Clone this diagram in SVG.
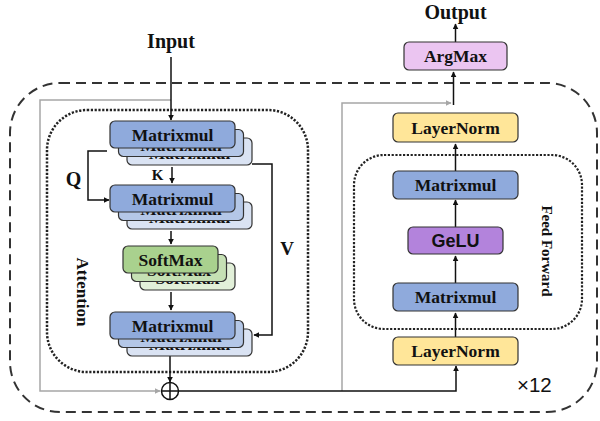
<svg xmlns="http://www.w3.org/2000/svg" width="600" height="421" viewBox="0 0 600 421">
<defs>
<marker id="ah" viewBox="0 0 10 10" refX="9" refY="5" markerWidth="6" markerHeight="6" markerUnits="userSpaceOnUse" orient="auto"><path d="M0,0 L10,5 L0,10 Z" fill="#111"/></marker>
<marker id="ahg" viewBox="0 0 10 10" refX="9" refY="5" markerWidth="6" markerHeight="6" markerUnits="userSpaceOnUse" orient="auto"><path d="M0,0 L10,5 L0,10 Z" fill="#a6a6a6"/></marker>
<style>
text{font-family:"Liberation Serif","Times New Roman",serif;font-weight:bold;fill:#111}
.sans{font-family:"Liberation Sans",Arial,sans-serif}
.box{stroke:#333;stroke-width:1.2}
.b1{fill:#8faadc}.b2{fill:#b4c7e7}.b3{fill:#dae3f3}
.g1{fill:#a9d18e}.g2{fill:#c5e0b4}.g3{fill:#e2f0d9}
.ln{fill:#ffe699}.am{fill:#ebc5f1}.ge{fill:#b383dc}
.lbl{font-size:17.5px;text-anchor:middle;dominant-baseline:central}
.ar{fill:none;stroke:#111;stroke-width:1.5}
.gr{fill:none;stroke:#a6a6a6;stroke-width:1.5}
</style>
</defs>

<g id="outer">
<rect x="10" y="83" width="587" height="329" rx="50" fill="none" stroke="#333" stroke-width="2" stroke-dasharray="10,6"/>
</g>
<g id="attention-box">
<rect x="47" y="110" width="261" height="262" rx="40" fill="none" stroke="#222" stroke-width="2.5" stroke-dasharray="2.2,1.6"/>
<text transform="translate(82,292) rotate(90)" style="font-size:17px" text-anchor="middle" dominant-baseline="central">Attention</text>
</g>
<g id="ff-box">
<rect x="354" y="155" width="228" height="174" rx="30" fill="none" stroke="#222" stroke-width="2.2" stroke-dasharray="2.2,1.6"/>
<text transform="translate(547,251) rotate(90)" style="font-size:15px" text-anchor="middle" dominant-baseline="central">Feed Forward</text>
</g>

<g id="connectors">
<path class="gr" d="M171,100 H40 V391 H160" marker-end="url(#ahg)"/>
<path class="gr" d="M342,391 V103 H451" marker-end="url(#ahg)"/>
<path class="ar" d="M171,57 V120" marker-end="url(#ah)"/>
<path class="ar" d="M172,167 V183" marker-end="url(#ah)"/>
<path class="ar" d="M107,151 H88 V200 H109" marker-end="url(#ah)"/>
<path class="ar" d="M252,164 H272 V335 H254" marker-end="url(#ah)"/>
<path class="ar" d="M171,231 V244" marker-end="url(#ah)"/>
<path class="ar" d="M171,292 V310" marker-end="url(#ah)"/>
<path class="ar" d="M170,356 V382" marker-end="url(#ah)"/>
<path class="ar" d="M178.5,391 H456 V366" marker-end="url(#ah)"/>
<path class="ar" d="M455.5,337 V313" marker-end="url(#ah)"/>
<path class="ar" d="M455.5,283 V256" marker-end="url(#ah)"/>
<path class="ar" d="M455.5,227 V200" marker-end="url(#ah)"/>
<path class="ar" d="M455.5,171 V144" marker-end="url(#ah)"/>
<path class="ar" d="M453.5,105 V72" marker-end="url(#ah)"/>
<path class="ar" d="M455.5,42 V24" marker-end="url(#ah)"/>
</g>

<g id="labels">
<text x="171" y="48" style="font-size:20px" text-anchor="middle">Input</text>
<text x="455.5" y="19" style="font-size:20px" text-anchor="middle">Output</text>
<text x="73.5" y="186" style="font-size:20px" text-anchor="middle">Q</text>
<text x="157.5" y="180" style="font-size:15px" text-anchor="middle">K</text>
<text x="287" y="255" style="font-size:19px" text-anchor="middle">V</text>
<text x="517" y="392" class="sans" style="font-size:20.5px;font-weight:normal">×12</text>
</g>

<g id="sum">
<circle cx="170" cy="391" r="8.5" fill="#fff" stroke="#111" stroke-width="1.5"/>
<path d="M161.5,391 H178.5 M170,382.5 V399.5" stroke="#111" stroke-width="1.5"/>
</g>

<g id="matrixmul-qk">
<rect class="box b3" x="127" y="138" width="125" height="27" rx="5"/>
<text class="lbl" x="189.5" y="153">Matrixmul</text>
<rect class="box b2" x="118.5" y="129.5" width="125" height="27" rx="5"/>
<text class="lbl" x="181" y="144.5">Matrixmul</text>
<rect class="box b1" x="110" y="121" width="125" height="27" rx="5"/>
<text class="lbl" x="172.5" y="134.5">Matrixmul</text>
</g>

<g id="matrixmul-scores">
<rect class="box b3" x="127" y="202" width="125" height="27" rx="5"/>
<text class="lbl" x="189.5" y="217">Matrixmul</text>
<rect class="box b2" x="118.5" y="193.5" width="125" height="27" rx="5"/>
<text class="lbl" x="181" y="208.5">Matrixmul</text>
<rect class="box b1" x="110" y="185" width="125" height="27" rx="5"/>
<text class="lbl" x="172.5" y="198.5">Matrixmul</text>
</g>

<g id="softmax">
<rect class="box g3" x="140" y="263" width="95" height="27" rx="5"/>
<text class="lbl" x="187.5" y="278">SoftMax</text>
<rect class="box g2" x="131.5" y="254.5" width="95" height="27" rx="5"/>
<text class="lbl" x="179" y="269.5">SoftMax</text>
<rect class="box g1" x="123" y="246" width="95" height="27" rx="5"/>
<text class="lbl" x="170.5" y="259.5">SoftMax</text>
</g>

<g id="matrixmul-v">
<rect class="box b3" x="127" y="329" width="125" height="27" rx="5"/>
<text class="lbl" x="189.5" y="344">Matrixmul</text>
<rect class="box b2" x="118.5" y="320.5" width="125" height="27" rx="5"/>
<text class="lbl" x="181" y="335.5">Matrixmul</text>
<rect class="box b1" x="110" y="312" width="125" height="27" rx="5"/>
<text class="lbl" x="172.5" y="325.5">Matrixmul</text>
</g>

<g id="argmax">
<rect class="box am" x="404" y="42" width="103" height="28" rx="5"/>
<text class="lbl" x="455.5" y="56">ArgMax</text>
</g>
<g id="layernorm-top">
<rect class="box ln" x="393" y="113" width="125" height="29" rx="5"/>
<text class="lbl" x="455.5" y="127.5">LayerNorm</text>
</g>
<g id="ff-matrixmul-2">
<rect class="box b1" x="393" y="171" width="125" height="28" rx="5"/>
<text class="lbl" x="455.5" y="185">Matrixmul</text>
</g>
<g id="gelu">
<rect class="box ge" x="408" y="227" width="95" height="27" rx="5"/>
<text class="lbl sans" x="455.5" y="240.5" style="font-size:18px">GeLU</text>
</g>
<g id="ff-matrixmul-1">
<rect class="box b1" x="393" y="283" width="125" height="28" rx="5"/>
<text class="lbl" x="455.5" y="297">Matrixmul</text>
</g>
<g id="layernorm-bottom">
<rect class="box ln" x="393" y="337" width="125" height="28" rx="5"/>
<text class="lbl" x="455.5" y="351">LayerNorm</text>
</g>
</svg>
